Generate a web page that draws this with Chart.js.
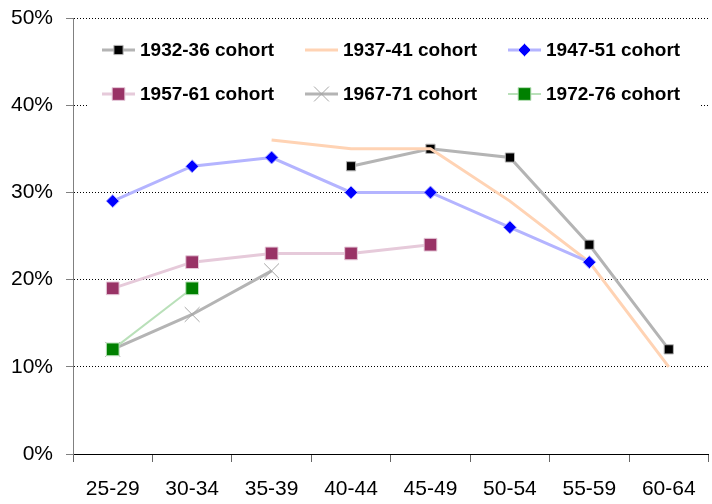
<!DOCTYPE html>
<html>
<head>
<meta charset="utf-8">
<script src="https://cdn.jsdelivr.net/npm/chart.js@4/dist/chart.umd.min.js"></script>
<style>
  html, body { margin: 0; padding: 0; background: #fff; }
  #wrap { width: 712px; height: 504px; overflow: hidden; }
  #box { width: 720px; height: 504px; position: relative; }
</style>
</head>
<body>
<div id="wrap"><div id="box"><canvas id="cohortChart"></canvas></div></div>
<script>
// Age groups along the x axis
const ageGroups = ["25-29", "30-34", "35-39", "40-44", "45-49", "50-54", "55-59", "60-64"];

// Share (%) per cohort, null where the cohort has no observation
const cohort1932 = [null, null, null, 33, 35, 34, 24, 12];
const cohort1937 = [null, null, 36, 35, 35, 29, 22, 10];
const cohort1947 = [29, 33, 34, 30, 30, 26, 22, null];
const cohort1957 = [19, 22, 23, 23, 24, null, null, null];
const cohort1967 = [12, 16, 21, null, null, null, null, null];
const cohort1972 = [12, 19, null, null, null, null, null, null];

const yTicks = [0, 10, 20, 30, 40, 50];

const LABEL_FONT = "'Liberation Sans', Arial, sans-serif";

function series(label, data, line, width, style, radius, fill, order) {
  return {
    label: label,
    data: data,
    order: order, // later cohorts are drawn on top, like the original
    borderColor: line,
    borderWidth: width,
    tension: 0,
    spanGaps: false,
    pointStyle: style,
    pointRadius: radius,
    pointHoverRadius: radius,
    pointBackgroundColor: fill,
    pointBorderColor: style === "crossRot" ? "#a6a6a6" : line,
    pointBorderWidth: 1,
  };
}

const datasets = [
  series("1932-36 cohort", cohort1932, "#b4b4b4", 3, "rect", 6.5, "#000000", 5),
  series("1937-41 cohort", cohort1937, "#ffd3b4", 3, false, 0, "#ffd3b4", 4),
  series("1947-51 cohort", cohort1947, "#b4b4ff", 3, "rectRot", 6.5, "#0000ff", 3),
  series("1957-61 cohort", cohort1957, "#e6cada", 3, "rect", 9, "#993366", 2),
  series("1967-71 cohort", cohort1967, "#b4b4b4", 3, "crossRot", 10.5, "#a6a6a6", 1),
  series("1972-76 cohort", cohort1972, "#b9e0b9", 2, "rect", 9, "#008000", 0),
];

// Legend sits inside the plot on a white box, 2 rows of 3 entries.
const insideLegend = {
  id: "insideLegend",
  afterDatasetsDraw(chart) {
    const ctx = chart.ctx;
    ctx.save();
    ctx.fillStyle = "#ffffff";
    ctx.fillRect(89, 25, 612, 91);
    chart.data.datasets.forEach((ds, i) => {
      const x0 = 102 + 203 * (i % 3);
      const y = 50 + 44 * Math.floor(i / 3);
      ctx.strokeStyle = ds.borderColor;
      ctx.lineWidth = ds.borderWidth;
      ctx.setLineDash([]);
      ctx.beginPath();
      ctx.moveTo(x0, y);
      ctx.lineTo(x0 + 33, y);
      ctx.stroke();
      if (ds.pointStyle) {
        ctx.fillStyle = ds.pointBackgroundColor;
        ctx.strokeStyle = ds.pointBorderColor;
        ctx.lineWidth = ds.pointBorderWidth;
        Chart.helpers.drawPoint(ctx, {
          pointStyle: ds.pointStyle,
          radius: ds.pointRadius,
          rotation: 0,
          borderWidth: ds.pointBorderWidth,
        }, x0 + 16.5, y);
      }
      ctx.fillStyle = "#000000";
      ctx.font = "bold 19px " + LABEL_FONT;
      ctx.textBaseline = "middle";
      ctx.textAlign = "left";
      ctx.fillText(ds.label, x0 + 38, y + 1);
    });
    ctx.restore();
  },
};

new Chart(document.getElementById("cohortChart"), {
  type: "line",
  data: { labels: ageGroups, datasets: datasets },
  plugins: [insideLegend],
  options: {
    responsive: true,
    maintainAspectRatio: false,
    animation: false,
    layout: { padding: { top: 18, right: 4, left: 0, bottom: 0 } },
    plugins: {
      legend: { display: false },
      tooltip: { enabled: false },
    },
    scales: {
      x: {
        offset: true,
        grid: {
          offset: true,
          drawOnChartArea: false,
          tickLength: 8,
          tickColor: "#666666",
        },
        border: { color: "#000000", width: 1 },
        ticks: {
          color: "#000000",
          padding: 15,
          maxRotation: 0,
          font: { family: LABEL_FONT, size: 21 },
        },
        afterFit: (scale) => { scale.height = 50; },
      },
      y: {
        min: 0,
        max: 50,
        afterBuildTicks: (scale) => { scale.ticks = yTicks.map((v) => ({ value: v })); },
        grid: {
          color: (c) => (c.tick && c.tick.value === 0 ? "rgba(0,0,0,0)" : "#000000"),
          tickColor: "#808080",
          tickLength: 7,
          lineWidth: 1,
        },
        border: { color: "#808080", width: 1, dash: [1, 2] },
        ticks: {
          color: "#000000",
          padding: 13,
          font: { family: LABEL_FONT, size: 21 },
          callback: (v) => v + "%",
        },
        afterFit: (scale) => {
          scale.width = 73;
          scale.paddingTop = 0;
          scale.paddingBottom = 0;
        },
      },
    },
  },
});
</script>
</body>
</html>
